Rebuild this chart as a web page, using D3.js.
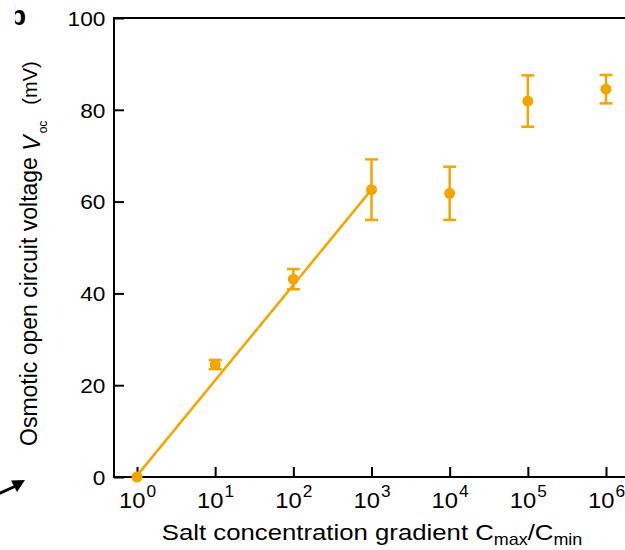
<!DOCTYPE html>
<html><head><meta charset="utf-8">
<script src="https://cdn.jsdelivr.net/npm/d3@7"></script>
<style>
body{margin:0;background:#fff}
svg{display:block}
text{font-family:"Liberation Sans",Arial,Helvetica,sans-serif;fill:#000}
</style>
</head><body>
<svg id="chart" width="625" height="550"></svg>
<script>
// ---- data ----
const ratios = [1, 10, 100, 1000, 10000, 100000, 1000000];
const voltage = [0, 24.5, 43.1, 62.6, 61.8, 81.9, 84.5];
const errors = [0, 1.0, 2.2, 6.6, 5.8, 5.6, 3.1];
const fitRatio = [1, 1000];
const fitVoltage = [0.3, 62.6];
const xTickValues = [1, 10, 100, 1000, 10000, 100000, 1000000];
const xTickExponents = ["0", "1", "2", "3", "4", "5", "6"];
const yTickValues = [0, 20, 40, 60, 80, 100];

// ---- layout ----
const frameLeft = 114, frameTop = 18, frameBottom = 477, frameRight = 640;
const orange = "#F6A500";

const svg = d3.select("#chart");
const x = d3.scaleLog().domain([1, 1e6]).range([137, 606]);
const y = d3.scaleLinear().domain([0, 100]).range([frameBottom, frameTop]);

// frame
const frame = svg.append("g").attr("stroke", "#000").attr("stroke-width", 2).attr("fill", "none");
frame.append("line").attr("x1", frameLeft).attr("x2", frameLeft).attr("y1", frameTop - 1).attr("y2", frameBottom + 1);
frame.append("line").attr("x1", frameLeft - 1).attr("x2", frameRight).attr("y1", frameTop).attr("y2", frameTop);
frame.append("line").attr("x1", frameLeft - 1).attr("x2", frameRight).attr("y1", frameBottom).attr("y2", frameBottom);

// y axis
const gy = svg.append("g").attr("transform", `translate(${frameLeft},0)`)
  .call(d3.axisLeft(y).tickValues(yTickValues).tickSizeInner(-10).tickSizeOuter(0).tickPadding(8));
gy.attr("font-family", null).attr("font-size", null);
gy.select(".domain").remove();
gy.selectAll(".tick line").attr("stroke", "#000").attr("stroke-width", 2);
gy.selectAll(".tick text").attr("font-size", 21).attr("transform", "scale(1.08,1)").attr("dy", "0.35em");

// x axis
const gx = svg.append("g").attr("transform", `translate(0,${frameBottom})`)
  .call(d3.axisBottom(x).tickValues(xTickValues).tickSizeInner(-10).tickSizeOuter(0).tickFormat(() => ""));
gx.attr("font-family", null).attr("font-size", null);
gx.select(".domain").remove();
gx.selectAll(".tick line").attr("stroke", "#000").attr("stroke-width", 2);
gx.selectAll(".tick text").each(function(d, i) {
  const t = d3.select(this);
  t.text(null).attr("y", 31).attr("dy", null).attr("font-size", 22)
   .attr("text-anchor", "middle").attr("transform", "scale(1.08,1)");
  t.append("tspan").text("10");
  t.append("tspan").attr("font-size", 16).attr("dy", -11).attr("dx", 1).text(xTickExponents[i]);
});

// axis titles
const xt = svg.append("text").attr("transform", "translate(372,540) scale(1.12,1)")
  .attr("text-anchor", "middle").attr("font-size", 23);
xt.append("tspan").text("Salt concentration gradient C");
xt.append("tspan").attr("font-size", 16).attr("dy", 5).text("max");
xt.append("tspan").attr("dy", -5).text("/C");
xt.append("tspan").attr("font-size", 16).attr("dy", 5).text("min");

const yt = svg.append("text").attr("transform", "translate(37,446) rotate(-90)")
  .attr("text-anchor", "start").attr("font-size", 23);
yt.append("tspan").text("Osmotic open circuit voltage ");
yt.append("tspan").attr("font-style", "italic").attr("dy", 3).text("V");
yt.append("tspan").attr("font-size", 12).attr("dy", 7).attr("dx", 2).text("oc");
yt.append("tspan").attr("font-size", 20).attr("dy", -10).attr("dx", 16).text("(mV)");

// panel label (clipped) and arrow
svg.append("clipPath").attr("id", "lblclip").append("rect").attr("x", 15).attr("y", 0).attr("width", 30).attr("height", 40);
svg.append("text").attr("clip-path", "url(#lblclip)").attr("x", 9).attr("y", 25)
  .attr("font-size", 28).attr("font-weight", "bold").text("b");
svg.append("line").attr("x1", -2).attr("y1", 494).attr("x2", 17).attr("y2", 485.5)
  .attr("stroke", "#000").attr("stroke-width", 3);
svg.append("polygon").attr("points", "25,480 11,480.5 17,492").attr("fill", "#000");

// fit line
svg.append("path")
  .datum(fitRatio.map((r, i) => [r, fitVoltage[i]]))
  .attr("fill", "none").attr("stroke", orange).attr("stroke-width", 2.5)
  .attr("d", d3.line().x(d => x(d[0])).y(d => y(d[1])));

// error bars
const pts = ratios.map((r, i) => ({ r, v: voltage[i], e: errors[i] }));
const eb = svg.append("g").attr("stroke", orange).attr("stroke-width", 2.5).attr("fill", "none");
pts.filter(d => d.e > 0).forEach(d => {
  const cx = x(d.r);
  eb.append("line").attr("x1", cx).attr("x2", cx).attr("y1", y(d.v - d.e)).attr("y2", y(d.v + d.e));
  eb.append("line").attr("x1", cx - 6.5).attr("x2", cx + 6.5).attr("y1", y(d.v + d.e)).attr("y2", y(d.v + d.e));
  eb.append("line").attr("x1", cx - 6.5).attr("x2", cx + 6.5).attr("y1", y(d.v - d.e)).attr("y2", y(d.v - d.e));
});

// points
svg.append("g").selectAll("circle").data(pts).join("circle")
  .attr("cx", d => x(d.r)).attr("cy", d => y(d.v)).attr("r", 5.5).attr("fill", orange);
</script>
</body></html>
